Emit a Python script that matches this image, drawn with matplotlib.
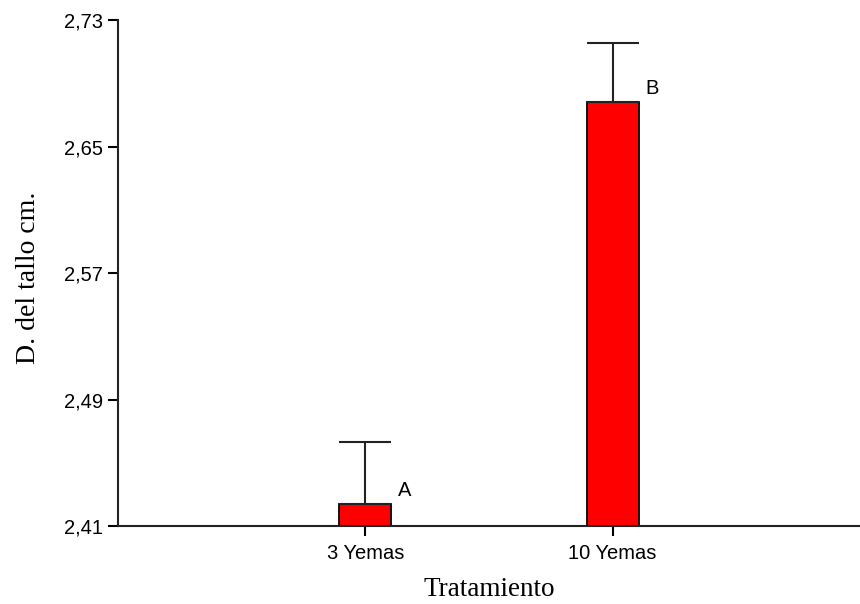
import matplotlib.pyplot as plt

# data
tratamientos = ["3 Yemas", "10 Yemas"]
medias = [2.424, 2.678]
errores = [0.039, 0.0375]
letras = ["A", "B"]
ticks_y = [2.41, 2.49, 2.57, 2.65, 2.73]

plt.rcParams['font.family'] = 'Liberation Sans'

fig = plt.figure(figsize=(8.6, 6.04), dpi=100)
ax = fig.add_axes([0.1372, 0.1291, 0.8628, 0.8378])

pos = [1, 2]
ax.bar(pos, [m - ticks_y[0] for m in medias], bottom=ticks_y[0], width=0.21,
       color="#ff0000", edgecolor="black", linewidth=1.3, zorder=2)
ax.errorbar(pos, medias, yerr=[[0, 0], errores], fmt="none", ecolor="#222222",
            elinewidth=1.5, capsize=19, capthick=1.5, zorder=3)

for p, m, l in zip(pos, medias, letras):
    ax.annotate(l, xy=(p + 0.105, m), xytext=(5, 3), textcoords="offset points",
                fontsize=14.5, ha="left", va="bottom")

ax.set_xlim(0, 3)
ax.set_ylim(2.41, 2.73)
ax.set_xticks(pos)
ax.set_xticklabels(tratamientos)
ax.set_yticks(ticks_y)
ax.set_yticklabels([("%.2f" % t).replace(".", ",") for t in ticks_y])
ax.tick_params(axis="both", direction="out", length=7, width=1.5, labelsize=14.5)
ax.tick_params(axis="x", pad=6)
ax.tick_params(axis="y", pad=4)

for s in ["top", "right"]:
    ax.spines[s].set_visible(False)
for s in ["left", "bottom"]:
    ax.spines[s].set_linewidth(1.5)
    ax.spines[s].set_color("#222222")

ax.set_xlabel("Tratamiento", family="Liberation Serif", fontsize=19.5, labelpad=10)
ax.set_ylabel("D. del tallo cm.", family="Liberation Serif", fontsize=20, labelpad=16)
ax.yaxis.label.set_y(0.49)

plt.savefig("out.png")
